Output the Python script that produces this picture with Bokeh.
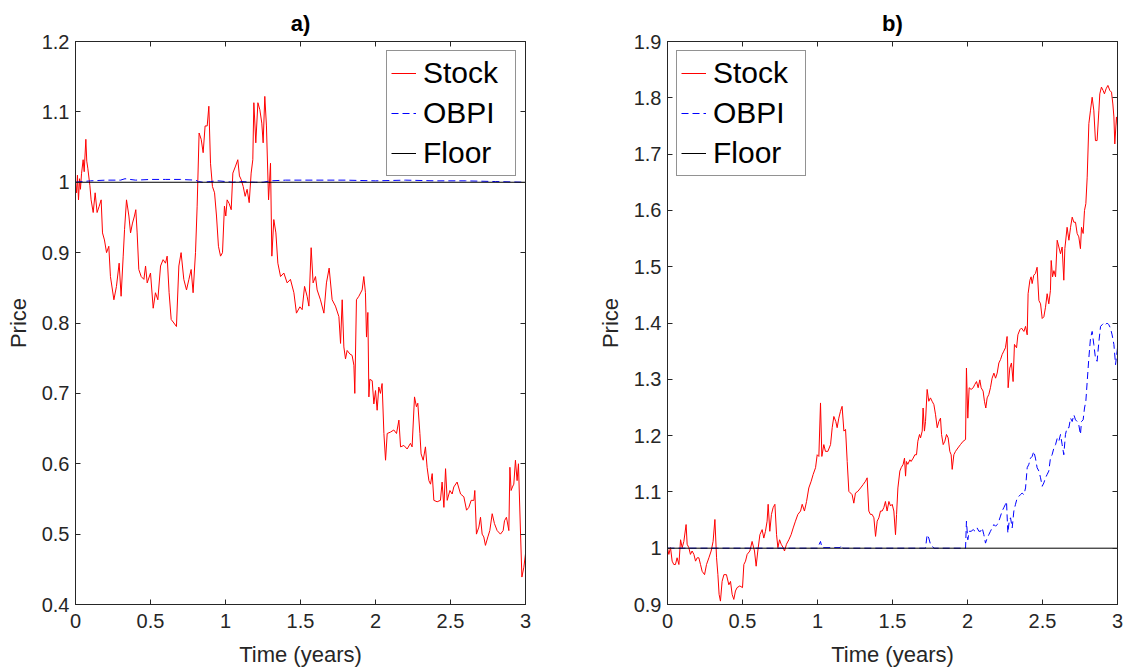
from bokeh.plotting import figure
from bokeh.layouts import row
from bokeh.models import LinearAxis, FixedTicker, CustomJSTickFormatter, Range1d
from bokeh.embed import file_html
from bokeh.resources import INLINE

# ---------------- panel a) : falling market ----------------
a_time = [0, 0.007, 0.013, 0.02, 0.027, 0.033, 0.04, 0.051, 0.058, 0.069, 0.075, 0.082, 0.096, 0.104,
          0.118, 0.131, 0.144, 0.158, 0.171, 0.18, 0.193, 0.207, 0.222, 0.233, 0.256, 0.273, 0.291, 0.304,
          0.318, 0.327, 0.34, 0.356, 0.367, 0.38, 0.393, 0.402, 0.411, 0.422, 0.438, 0.456, 0.467, 0.478,
          0.5, 0.518, 0.533, 0.549, 0.567, 0.584, 0.6, 0.611, 0.624, 0.638, 0.656, 0.673, 0.689, 0.704,
          0.722, 0.74, 0.756, 0.771, 0.784, 0.8, 0.811, 0.824, 0.838, 0.851, 0.864, 0.878, 0.889, 0.9,
          0.913, 0.927, 0.94, 0.953, 0.967, 0.98, 0.993, 1.002, 1.011, 1.024, 1.038, 1.049, 1.067, 1.082,
          1.093, 1.104, 1.118, 1.131, 1.144, 1.158, 1.171, 1.182, 1.189, 1.202, 1.216, 1.229, 1.242, 1.251,
          1.262, 1.273, 1.287, 1.3, 1.309, 1.322, 1.336, 1.349, 1.367, 1.389, 1.411, 1.433, 1.456, 1.473,
          1.496, 1.511, 1.527, 1.544, 1.556, 1.571, 1.584, 1.6, 1.611, 1.633, 1.656, 1.673, 1.691, 1.711,
          1.733, 1.756, 1.767, 1.778, 1.789, 1.8, 1.811, 1.829, 1.844, 1.856, 1.862, 1.873, 1.889, 1.911,
          1.922, 1.933, 1.94, 1.949, 1.956, 1.962, 1.978, 1.989, 2.0, 2.011, 2.022, 2.033, 2.044, 2.056,
          2.067, 2.078, 2.1, 2.122, 2.14, 2.156, 2.167, 2.189, 2.211, 2.233, 2.244, 2.26, 2.273, 2.282,
          2.296, 2.304, 2.318, 2.333, 2.344, 2.356, 2.367, 2.378, 2.389, 2.411, 2.433, 2.444, 2.456, 2.467,
          2.478, 2.496, 2.511, 2.522, 2.544, 2.567, 2.589, 2.607, 2.622, 2.638, 2.656, 2.662, 2.673, 2.689,
          2.7, 2.711, 2.722, 2.733, 2.749, 2.762, 2.778, 2.793, 2.811, 2.833, 2.851, 2.86, 2.873, 2.889,
          2.896, 2.904, 2.913, 2.922, 2.933, 2.944, 2.953, 2.967, 2.976, 2.989, 3.0]
a_stock = [1.0, 0.985, 1.01, 0.975, 1.005, 0.99, 1.012, 1.032, 1.015, 1.061, 1.03, 1.02, 0.995, 0.975,
           0.957, 0.985, 0.957, 0.966, 0.975, 0.928, 0.918, 0.9, 0.909, 0.866, 0.833, 0.852, 0.885, 0.838,
           0.895, 0.933, 0.975, 0.952, 0.928, 0.942, 0.952, 0.961, 0.928, 0.876, 0.866, 0.862, 0.881, 0.857,
           0.871, 0.821, 0.843, 0.833, 0.881, 0.89, 0.885, 0.895, 0.843, 0.805, 0.8, 0.795, 0.881, 0.9,
           0.862, 0.847, 0.862, 0.876, 0.843, 0.9, 0.966, 1.07, 1.061, 1.042, 1.08, 1.08, 1.108, 1.027,
           0.994, 0.985, 0.952, 0.909, 0.895, 0.9, 0.966, 0.952, 0.975, 0.97, 0.961, 1.013, 1.023, 1.032,
           1.009, 1.004, 0.994, 0.98, 0.99, 0.971, 1.013, 1.032, 1.113, 1.056, 1.113, 1.103, 1.084, 1.056,
           1.122, 1.08, 0.975, 1.027, 0.895, 0.947, 0.928, 0.885, 0.866, 0.871, 0.857, 0.862, 0.843, 0.814,
           0.823, 0.819, 0.852, 0.838, 0.824, 0.907, 0.857, 0.866, 0.847, 0.833, 0.814, 0.857, 0.878, 0.833,
           0.824, 0.809, 0.771, 0.833, 0.766, 0.749, 0.761, 0.756, 0.754, 0.74, 0.7, 0.833, 0.838, 0.847,
           0.866, 0.843, 0.78, 0.815, 0.695, 0.72, 0.718, 0.685, 0.704, 0.676, 0.709, 0.7, 0.714, 0.643,
           0.605, 0.643, 0.645, 0.648, 0.643, 0.662, 0.624, 0.626, 0.621, 0.629, 0.624, 0.695, 0.681, 0.686,
           0.643, 0.614, 0.605, 0.624, 0.595, 0.576, 0.571, 0.586, 0.548, 0.546, 0.548, 0.574, 0.538, 0.593,
           0.548, 0.562, 0.557, 0.567, 0.574, 0.557, 0.553, 0.534, 0.538, 0.548, 0.548, 0.562, 0.5, 0.51,
           0.524, 0.5, 0.496, 0.484, 0.496, 0.505, 0.529, 0.515, 0.505, 0.5, 0.505, 0.519, 0.524, 0.505,
           0.595, 0.562, 0.567, 0.571, 0.605, 0.576, 0.6, 0.5, 0.439, 0.453, 0.472]
a_obpi_time = [0, 0.05, 0.1, 0.2, 0.3, 0.33, 0.4, 0.5, 0.6, 0.7, 0.8, 0.82, 0.85, 0.9, 0.95, 1.0, 1.05,
               1.1, 1.2, 1.25, 1.3, 1.4, 1.6, 1.8, 2.0, 2.2, 2.4, 2.6, 2.8, 3.0]
a_obpi = [1.0, 1.001, 1.002, 1.003, 1.003, 1.005, 1.003, 1.004, 1.004, 1.004, 1.003, 1.001, 1.0, 1.001,
          1.002, 1.001, 1.0, 1.001, 1.0, 1.0, 1.002, 1.003, 1.003, 1.003, 1.002, 1.003, 1.002, 1.002,
          1.001, 1.0]

# ---------------- panel b) : rising market ----------------
b_time = [0, 0.009, 0.02, 0.031, 0.042, 0.053, 0.064, 0.076, 0.087, 0.098, 0.109, 0.124, 0.131, 0.142,
          0.153, 0.164, 0.176, 0.187, 0.198, 0.209, 0.22, 0.231, 0.247, 0.26, 0.276, 0.291, 0.304, 0.316,
          0.327, 0.336, 0.344, 0.353, 0.364, 0.376, 0.393, 0.409, 0.42, 0.431, 0.442, 0.453, 0.464, 0.482,
          0.5, 0.509, 0.52, 0.531, 0.549, 0.564, 0.58, 0.591, 0.602, 0.616, 0.631, 0.642, 0.653, 0.664,
          0.671, 0.682, 0.693, 0.704, 0.716, 0.727, 0.736, 0.747, 0.758, 0.771, 0.78, 0.793, 0.809, 0.824,
          0.838, 0.853, 0.869, 0.887, 0.898, 0.913, 0.927, 0.942, 0.958, 0.971, 0.987, 0.998, 1.009, 1.02,
          1.029, 1.042, 1.053, 1.069, 1.087, 1.098, 1.109, 1.122, 1.131, 1.142, 1.153, 1.164, 1.176, 1.187,
          1.198, 1.209, 1.22, 1.231, 1.242, 1.253, 1.269, 1.287, 1.304, 1.32, 1.331, 1.342, 1.353, 1.364,
          1.376, 1.387, 1.398, 1.409, 1.42, 1.431, 1.442, 1.453, 1.464, 1.476, 1.487, 1.498, 1.509, 1.52,
          1.527, 1.536, 1.549, 1.558, 1.571, 1.58, 1.587, 1.593, 1.602, 1.616, 1.624, 1.638, 1.649, 1.66,
          1.669, 1.68, 1.687, 1.698, 1.704, 1.713, 1.72, 1.731, 1.742, 1.753, 1.764, 1.776, 1.787, 1.798,
          1.809, 1.82, 1.827, 1.838, 1.849, 1.86, 1.871, 1.882, 1.891, 1.898, 1.909, 1.92, 1.936, 1.953,
          1.971, 1.987, 1.993, 2.002, 2.011, 2.024, 2.038, 2.049, 2.06, 2.071, 2.082, 2.091, 2.104, 2.113,
          2.122, 2.131, 2.142, 2.153, 2.164, 2.176, 2.187, 2.198, 2.209, 2.22, 2.231, 2.242, 2.253, 2.264,
          2.271, 2.282, 2.293, 2.304, 2.313, 2.327, 2.336, 2.349, 2.36, 2.376, 2.387, 2.398, 2.404, 2.416,
          2.424, 2.431, 2.442, 2.453, 2.464, 2.476, 2.487, 2.498, 2.509, 2.52, 2.531, 2.542, 2.553, 2.558,
          2.567, 2.576, 2.587, 2.598, 2.609, 2.62, 2.631, 2.642, 2.649, 2.664, 2.676, 2.687, 2.698, 2.709,
          2.72, 2.731, 2.742, 2.753, 2.76, 2.771, 2.78, 2.789, 2.798, 2.809, 2.82, 2.831, 2.842, 2.853,
          2.864, 2.876, 2.882, 2.893, 2.904, 2.913, 2.924, 2.936, 2.949, 2.96, 2.969, 2.976, 2.982, 2.993,
          3.0]
b_stock = [1.0, 0.989, 1.001, 0.977, 0.971, 0.971, 0.983, 0.971, 1.015, 1.001, 1.012, 1.042, 1.007, 1.001,
           0.989, 0.995, 0.989, 0.977, 0.983, 0.983, 0.971, 0.959, 0.953, 0.971, 0.983, 0.995, 1.012, 1.051,
           0.983, 0.953, 0.918, 0.906, 0.941, 0.953, 0.953, 0.935, 0.941, 0.918, 0.909, 0.924, 0.93, 0.933,
           0.93, 0.971, 0.977, 0.989, 0.995, 1.012, 0.995, 0.968, 0.995, 1.024, 1.033, 1.018, 1.03, 1.048,
           1.078, 1.03, 1.06, 1.072, 1.078, 1.024, 1.001, 1.015, 1.007, 1.001, 0.995, 1.007, 1.015, 1.024,
           1.036, 1.048, 1.06, 1.066, 1.078, 1.066, 1.083, 1.107, 1.119, 1.131, 1.143, 1.166, 1.163, 1.258,
           1.163, 1.184, 1.172, 1.172, 1.184, 1.214, 1.234, 1.225, 1.214, 1.231, 1.243, 1.252, 1.208, 1.211,
           1.154, 1.101, 1.098, 1.095, 1.08, 1.098, 1.101, 1.107, 1.113, 1.119, 1.125, 1.066, 1.06, 1.06,
           1.054, 1.021, 1.048, 1.054, 1.066, 1.066, 1.072, 1.083, 1.066, 1.083, 1.075, 1.078, 1.066, 1.024,
           1.06, 1.107, 1.137, 1.143, 1.149, 1.16, 1.128, 1.154, 1.149, 1.157, 1.154, 1.16, 1.166, 1.166,
           1.19, 1.202, 1.196, 1.208, 1.249, 1.208, 1.225, 1.282, 1.261, 1.267, 1.261, 1.255, 1.237, 1.214,
           1.225, 1.231, 1.202, 1.184, 1.19, 1.202, 1.196, 1.172, 1.166, 1.14, 1.166, 1.172, 1.178, 1.184,
           1.19, 1.193, 1.32, 1.231, 1.285, 1.282, 1.285, 1.291, 1.296, 1.285, 1.299, 1.285, 1.279, 1.261,
           1.249, 1.267, 1.273, 1.285, 1.302, 1.311, 1.302, 1.311, 1.329, 1.335, 1.344, 1.35, 1.356, 1.376,
           1.285, 1.32, 1.329, 1.296, 1.362, 1.356, 1.379, 1.388, 1.391, 1.385, 1.394, 1.379, 1.452, 1.476,
           1.482, 1.47, 1.485, 1.488, 1.499, 1.44, 1.434, 1.408, 1.411, 1.428, 1.452, 1.434, 1.458, 1.511,
           1.482, 1.493, 1.482, 1.547, 1.535, 1.523, 1.535, 1.476, 1.532, 1.57, 1.547, 1.57, 1.588, 1.579,
           1.579, 1.559, 1.553, 1.532, 1.57, 1.559, 1.6, 1.612, 1.659, 1.754, 1.778, 1.801, 1.778, 1.724,
           1.724, 1.778, 1.807, 1.819, 1.813, 1.807, 1.816, 1.822, 1.813, 1.81, 1.789, 1.766, 1.718, 1.766,
           1.75]
b_obpi_time = [0, 0.5, 1.0, 1.02, 1.03, 1.15, 1.16, 1.17, 1.72, 1.731, 1.742, 1.753, 1.764, 1.776, 1.987,
               1.993, 2.002, 2.011, 2.024, 2.038, 2.051, 2.064, 2.076, 2.087, 2.098, 2.109, 2.12, 2.131,
               2.142, 2.153, 2.164, 2.176, 2.187, 2.198, 2.209, 2.22, 2.231, 2.242, 2.253, 2.26, 2.269,
               2.278, 2.287, 2.298, 2.309, 2.32, 2.331, 2.342, 2.353, 2.364, 2.376, 2.387, 2.398, 2.409,
               2.42, 2.431, 2.442, 2.453, 2.464, 2.476, 2.487, 2.498, 2.509, 2.52, 2.531, 2.542, 2.553,
               2.564, 2.576, 2.587, 2.598, 2.609, 2.62, 2.631, 2.642, 2.653, 2.664, 2.676, 2.687, 2.698,
               2.709, 2.72, 2.731, 2.742, 2.753, 2.76, 2.771, 2.78, 2.789, 2.798, 2.809, 2.82, 2.831, 2.842,
               2.853, 2.864, 2.876, 2.887, 2.898, 2.909, 2.92, 2.931, 2.942, 2.953, 2.964, 2.976, 2.987,
               3.0]
b_obpi = [1.0, 1.0, 1.0, 1.012, 1.001, 1.001, 1.005, 1.0, 1.0, 1.024, 1.018, 1.007, 1.004, 1.0, 1.0,
          1.048, 1.015, 1.03, 1.03, 1.033, 1.03, 1.036, 1.03, 1.03, 1.036, 1.024, 1.009, 1.018,
          1.024, 1.03, 1.036, 1.042, 1.039, 1.042, 1.048, 1.057, 1.066, 1.072, 1.078, 1.083, 1.027,
          1.048, 1.054, 1.036, 1.066, 1.078, 1.089, 1.092, 1.095, 1.098, 1.095, 1.107, 1.143, 1.149,
          1.16, 1.163, 1.172, 1.16, 1.143, 1.137, 1.125, 1.11, 1.116, 1.125, 1.131, 1.137, 1.16,
          1.166, 1.178, 1.184, 1.195, 1.19, 1.202, 1.184, 1.166, 1.202, 1.214, 1.214, 1.231, 1.225,
          1.237, 1.228, 1.225, 1.219, 1.202, 1.225, 1.228, 1.249, 1.261, 1.296, 1.338, 1.373, 1.385, 1.362,
          1.338, 1.332, 1.367, 1.394, 1.397, 1.4, 1.397, 1.4, 1.397, 1.391, 1.379, 1.362, 1.326,
          1.356]

# guaranteed floor of the insured portfolio
floor_time = [0, 3]
floor_level = [1.0, 1.0]

x_ticks = [0, 0.5, 1, 1.5, 2, 2.5, 3]
a_y_ticks = [0.4, 0.5, 0.6, 0.7, 0.8, 0.9, 1.0, 1.1, 1.2]
b_y_ticks = [0.9, 1.0, 1.1, 1.2, 1.3, 1.4, 1.5, 1.6, 1.7, 1.8, 1.9]

FONT = "Liberation Sans"
AXIS_COLOR = "#262626"

tick_fmt = CustomJSTickFormatter(code="return String(Math.round(tick * 10) / 10);")
blank_fmt = CustomJSTickFormatter(code="return '';")


def style_axis(ax, ticks, shown=True):
    ax.ticker = FixedTicker(ticks=ticks)
    ax.axis_line_color = AXIS_COLOR
    ax.axis_line_width = 1
    ax.major_tick_line_color = AXIS_COLOR
    ax.major_tick_in = 5
    ax.major_tick_out = 0
    ax.minor_tick_line_color = None
    if shown:
        ax.formatter = tick_fmt
        ax.major_label_text_font = FONT
        ax.major_label_text_font_size = "20px"
        ax.major_label_text_color = AXIS_COLOR
        ax.axis_label_text_font = FONT
        ax.axis_label_text_font_size = "22px"
        ax.axis_label_text_font_style = "normal"
        ax.axis_label_text_color = AXIS_COLOR
    else:
        ax.formatter = blank_fmt
        ax.major_label_text_font_size = "0px"
        ax.major_label_standoff = 0


def panel(title, ylim, y_ticks, t, stock, ot, obpi, left_border, right_border, legend_loc):
    p = figure(frame_width=450, frame_height=563, output_backend="svg", toolbar_location=None,
               x_range=Range1d(0, 3), y_range=Range1d(*ylim),
               min_border_left=left_border, min_border_right=right_border,
               min_border_top=41, min_border_bottom=65,
               background_fill_color="white", border_fill_color="white")
    p.title.text = title
    p.title.align = "center"
    p.title.vertical_align = "top"
    p.title.text_font = FONT
    p.title.text_font_size = "22px"
    p.title.text_font_style = "bold"
    p.title.text_color = "black"
    p.title.standoff = 8
    p.xgrid.visible = False
    p.ygrid.visible = False
    p.outline_line_color = AXIS_COLOR

    p.line(t, stock, color="#ff0000", line_width=1, legend_label="Stock")
    p.line(ot, obpi, color="#0000ff", line_width=1, line_dash="7 4", legend_label="OBPI")
    p.line(floor_time, floor_level, color="black", line_width=1, legend_label="Floor")

    p.xaxis.axis_label = "Time (years)"
    p.yaxis.axis_label = "Price"
    p.xaxis.axis_label_standoff = 11
    p.yaxis.axis_label_standoff = 8
    p.xaxis.major_label_standoff = 9
    p.yaxis.major_label_standoff = 6
    style_axis(p.xaxis[0], x_ticks)
    style_axis(p.yaxis[0], y_ticks)

    top = LinearAxis()
    right = LinearAxis()
    style_axis(top, x_ticks, shown=False)
    style_axis(right, y_ticks, shown=False)
    p.add_layout(top, "above")
    p.add_layout(right, "right")

    lg = p.legend[0]
    lg.location = legend_loc
    lg.margin = 9
    lg.padding = 4
    lg.spacing = 4
    lg.glyph_width = 25
    lg.glyph_height = 36
    lg.label_height = 36
    lg.label_width = 88
    lg.label_standoff = 7
    lg.label_text_font = FONT
    lg.label_text_font_size = "30px"
    lg.label_text_color = "black"
    lg.border_line_color = AXIS_COLOR
    lg.border_line_width = 1
    lg.background_fill_color = "white"
    lg.background_fill_alpha = 1
    return p


pa = panel("a)", (0.4, 1.2), a_y_ticks, a_time, a_stock, a_obpi_time, a_obpi, 75, 36, "top_right")
pb = panel("b)", (0.9, 1.9), b_y_ticks, b_time, b_stock, b_obpi_time, b_obpi, 106, 6, "top_left")

layout = row(pa, pb)
open("out.html", "w").write(file_html(layout, INLINE))
